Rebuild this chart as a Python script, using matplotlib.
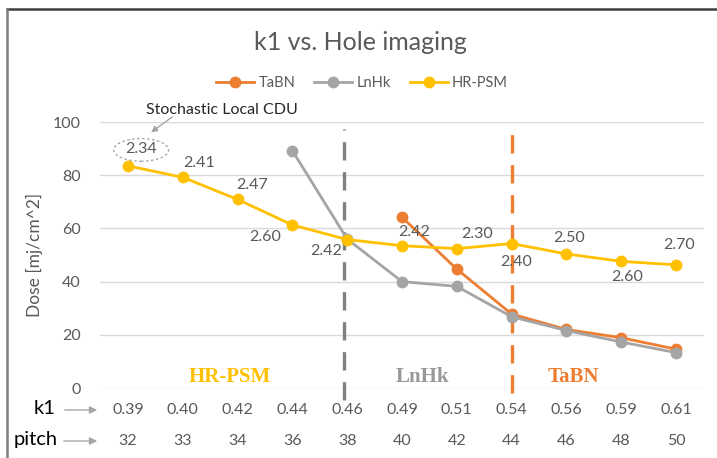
import matplotlib
matplotlib.use("Agg")
import matplotlib.pyplot as plt
from matplotlib.patches import Ellipse
from matplotlib.lines import Line2D
import matplotlib.transforms as mtransforms

plt.rcParams['font.family'] = ['Lato', 'DejaVu Sans']

# data
k1 = ["0.39", "0.40", "0.42", "0.44", "0.46", "0.49", "0.51", "0.54", "0.56", "0.59", "0.61"]
pitch = ["32", "33", "34", "36", "38", "40", "42", "44", "46", "48", "50"]
tabn = [None, None, None, None, None, 64.2, 44.7, 27.8, 22.0, 18.9, 14.6]
lnhk = [None, None, None, 89.2, 56.0, 40.0, 38.2, 26.8, 21.6, 17.3, 13.3]
hrpsm = [83.5, 79.2, 70.9, 61.3, 55.8, 53.5, 52.4, 54.3, 50.4, 47.6, 46.3]
hr_labels = ["2.34", "2.41", "2.47", "2.60", "2.42", "2.42", "2.30", "2.40", "2.50", "2.60", "2.70"]
gray_split = 4
orange_split = 7

ORANGE = "#ED7D31"
GRAY = "#A5A5A5"
GOLD = "#FFC000"
TXT = "#595959"

fig = plt.figure(figsize=(7.17, 4.58), dpi=100)
ax = fig.add_axes([100 / 717, 70 / 458, 604 / 717, 266 / 458])

x = list(range(len(k1)))


def seg(vals):
    xs = [i for i, v in zip(x, vals) if v is not None]
    ys = [v for v in vals if v is not None]
    return xs, ys


for vals, col, name in [(tabn, ORANGE, "TaBN"), (lnhk, GRAY, "LnHk"), (hrpsm, GOLD, "HR-PSM")]:
    xs, ys = seg(vals)
    ax.plot(xs, ys, color=col, lw=2.0, marker="o", ms=7.5, label=name, zorder=3)

# region split lines
ax.plot([gray_split - 0.05, gray_split - 0.05], [-4.5, 97.5], color="#808080", lw=2.4,
        ls=(0, (5.5, 3.5)), clip_on=False, zorder=2)
ax.plot([orange_split, orange_split], [-2, 99], color=ORANGE, lw=2.4,
        ls=(0, (5.5, 3.5)), clip_on=False, zorder=2)

# data labels for HR-PSM
offs = [(13, 17), (16, 14), (15, 14), (-27, -12), (-21, -11), (12, 14),
        (20, 15), (5, -18), (3, 16), (6, -16), (3, 20)]
for i, (lab, (dx, dy)) in enumerate(zip(hr_labels, offs)):
    ax.annotate(lab, (i, hrpsm[i]), xytext=(dx, dy), textcoords="offset pixels",
                ha="center", va="center", fontsize=11.5, color=TXT, zorder=5)

# stochastic CDU callout
ax.add_patch(Ellipse((0.24, 89.5), 1.0, 8.5, fill=False, ls=(0, (2, 2)),
                     ec="#A0A0A0", lw=0.9, clip_on=False))
ax.annotate("", xy=(0.38, 95.5), xytext=(0.85, 102.5),
            arrowprops=dict(arrowstyle="-|>", color="#A5A5A5", lw=1.0, mutation_scale=9),
            annotation_clip=False)
ax.text(1.72, 104.5, "Stochastic Local CDU", ha="center", va="center", fontsize=11.5,
        color="#262626", clip_on=False)

# region names
ax.text(1.86, 4.1, "HR-PSM", color=GOLD, fontsize=15, fontweight="bold",
        family="Liberation Serif", ha="center", va="center")
ax.text(5.38, 4.1, "LnHk", color="#999999", fontsize=15, fontweight="bold",
        family="Liberation Serif", ha="center", va="center")
ax.text(8.12, 4.1, "TaBN", color=ORANGE, fontsize=15, fontweight="bold",
        family="Liberation Serif", ha="center", va="center")

ax.set_xlim(-0.51, 10.51)
ax.set_ylim(0, 100)
ax.set_yticks(range(0, 101, 20))
ax.grid(axis="y", color="#D9D9D9", lw=1)
ax.set_axisbelow(True)
for s in ax.spines.values():
    s.set_visible(False)
ax.tick_params(axis="y", length=0, labelsize=11.5, labelcolor=TXT, pad=14)
ax.set_xticks(x)
ax.set_xticklabels(k1)
ax.tick_params(axis="x", length=0, labelsize=11.5, labelcolor=TXT, pad=11)
ax.set_ylabel("Dose [mj/cm^2]", fontsize=12.5, color=TXT, labelpad=7)

trans = mtransforms.blended_transform_factory(ax.transData, ax.transAxes)
for i, p in enumerate(pitch):
    ax.text(i, -0.199, p, transform=trans, ha="center", va="center",
            fontsize=11.5, color=TXT)

# row labels with arrows
fig.text(45 / 717, 1 - 409 / 458, "k1", ha="center", va="center", fontsize=14.5, color="black")
fig.text(36 / 717, 1 - 440 / 458, "pitch", ha="center", va="center", fontsize=14.5, color="black")
for yy, x0 in [(410, 62), (441, 61)]:
    ax.annotate("", xy=(100 / 717, 1 - yy / 458), xytext=(x0 / 717, 1 - yy / 458),
                xycoords="figure fraction", textcoords="figure fraction",
                arrowprops=dict(arrowstyle="-|>", color="#A5A5A5", lw=1.0,
                                mutation_scale=11))

fig.text(0.503, 1 - 42 / 458, "k1 vs. Hole imaging", ha="center", va="center",
         fontsize=18, color=TXT)
fig.legend(loc="center", bbox_to_anchor=(0.505, 1 - 83 / 458), ncol=3, frameon=False,
           fontsize=10.5, labelcolor=TXT, handlelength=2.6, columnspacing=1.3,
           handletextpad=0.3)

# frame edges
fig.add_artist(Line2D([7 / 717, 1], [1 - 9 / 458, 1 - 9 / 458], transform=fig.transFigure,
                      color="#3F3F3F", lw=1.8))
fig.add_artist(Line2D([7 / 717, 7 / 717], [0, 1 - 9 / 458], transform=fig.transFigure,
                      color="#7F7F7F", lw=1.8))

fig.savefig("out.png", dpi=100)
